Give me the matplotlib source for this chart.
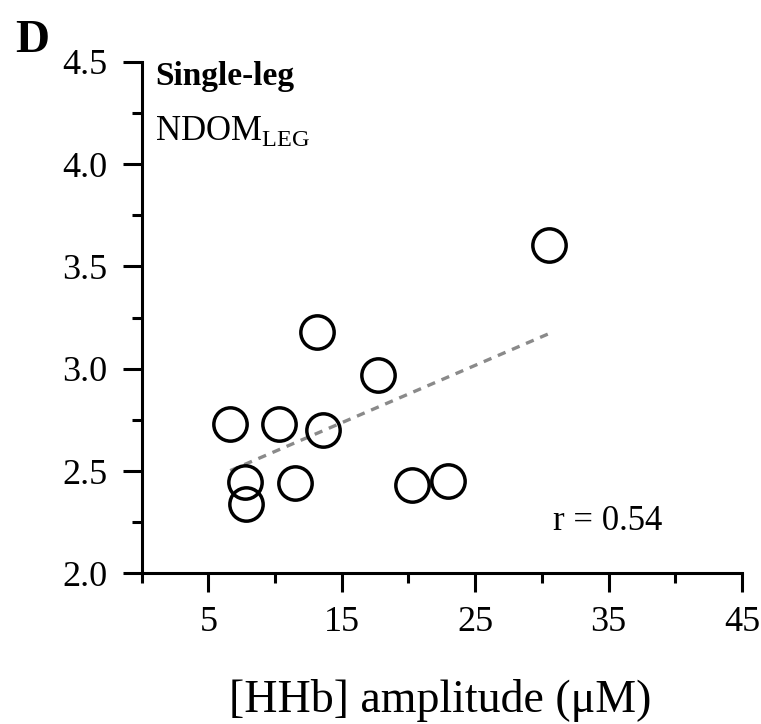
import numpy as np
import matplotlib
matplotlib.use('Agg')
import matplotlib.pyplot as plt
from matplotlib.ticker import MultipleLocator, FixedLocator

plt.rcParams['font.family'] = ['Liberation Serif', 'DejaVu Serif']

# [HHb] amplitude (uM) vs NDOM_LEG, single-leg
hhb_amp = [13.15, 17.74, 6.64, 10.28, 13.62, 7.73, 7.86, 11.5, 20.23, 23.0, 30.54]
ndom_leg = [3.18, 2.97, 2.73, 2.73, 2.70, 2.447, 2.34, 2.44, 2.43, 2.45, 3.605]
r_text = 'r = 0.54'

x_major = [5, 15, 25, 35, 45]
x_minor = [0, 10, 20, 30, 40]

fig = plt.figure(figsize=(7.61, 7.24), dpi=100)
ax = fig.add_axes([0.1861, 0.2081, 0.7889, 0.7065])

# linear fit over the data range
k, b = np.polyfit(hhb_amp, ndom_leg, 1)
xf = np.array([min(hhb_amp), max(hhb_amp)])
ax.plot(xf, k * xf + b, color='#8a8a8a', lw=2.4, dashes=(2.5, 2.1),
        dash_capstyle='butt', zorder=1)

ax.plot(hhb_amp, ndom_leg, linestyle='none', marker='o', markersize=24,
        markerfacecolor='none', markeredgecolor='black', markeredgewidth=2.5,
        zorder=2, clip_on=False)

ax.set_xlim(0, 45)
ax.set_ylim(2.0, 4.5)
ax.xaxis.set_major_locator(FixedLocator(x_major))
ax.xaxis.set_minor_locator(FixedLocator(x_minor))
ax.yaxis.set_major_locator(MultipleLocator(0.5))
ax.yaxis.set_minor_locator(MultipleLocator(0.25))
ax.yaxis.set_major_formatter(matplotlib.ticker.FormatStrFormatter('%.1f'))

for s in ['top', 'right']:
    ax.spines[s].set_visible(False)
for s in ['left', 'bottom']:
    ax.spines[s].set_linewidth(2.2)

ax.tick_params(which='major', direction='out', length=13.5, width=2.2,
               labelsize=26, pad=10)
ax.tick_params(which='minor', direction='out', length=7, width=2.2)
ax.tick_params(axis='y', which='major', pad=11)

ax.text(0.022, 0.955, 'Single-leg', transform=ax.transAxes, fontsize=24,
        fontweight='bold', va='baseline', ha='left')
ax.text(0.022, 0.848, r'NDOM$_{\mathregular{LEG}}$', transform=ax.transAxes,
        fontsize=25, va='baseline', ha='left')
ax.text(0.867, 0.085, r_text, transform=ax.transAxes, fontsize=25,
        va='baseline', ha='right')

fig.text(0.02, 0.928, 'D', fontsize=34, fontweight='bold', va='baseline')
fig.text(0.578, 0.016, '[HHb] amplitude (\u03bcM)', fontsize=33,
         ha='center', va='baseline')

fig.savefig('out.png', dpi=100)
